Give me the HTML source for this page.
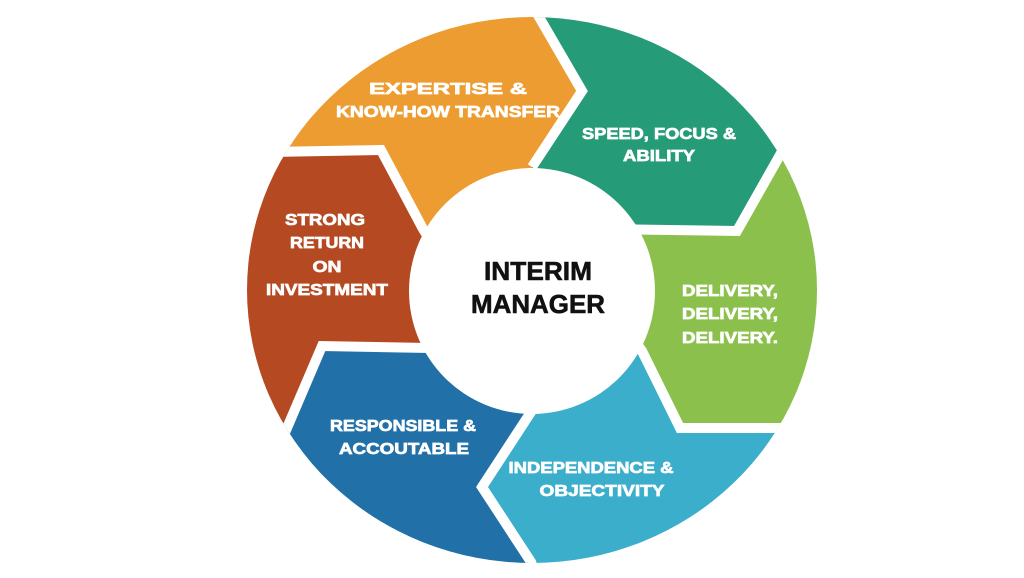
<!DOCTYPE html>
<html><head><meta charset="utf-8"><style>html,body{margin:0;padding:0;background:#fff;width:1024px;height:578px;overflow:hidden}svg{display:block}</style></head>
<body>
<svg width="1024" height="578" viewBox="0 0 1024 578" xmlns="http://www.w3.org/2000/svg">
<defs><clipPath id="c"><ellipse cx="532" cy="290" rx="285" ry="273"/></clipPath></defs>
<g clip-path="url(#c)">
<polygon fill="#259B78" points="532,290 532,167 582,91 535,10 520,-20 1000,-100 1000,0 810,100 780,155 737,231 600,229"/>
<polygon fill="#8BC04C" points="532,290 600,229 737,231 780,155 810,100 1000,100 1000,428 840,428 680,428 642,351 620,320"/>
<polygon fill="#3BAECB" points="532,290 620,320 642,351 680,428 840,428 1000,700 545,600 531,562 482,487 531,412 535,380"/>
<polygon fill="#2170A8" points="532,290 535,380 531,412 482,487 531,562 545,600 100,700 100,490 260,490 287,428 322,346 430,348"/>
<polygon fill="#B54A22" points="532,290 430,348 322,346 287,428 260,490 100,490 100,152 220,152 270,152 381,150 423,229 430,240"/>
<polygon fill="#EC9C30" points="532,290 430,240 423,229 381,150 270,152 220,152 100,-100 520,-20 535,10 582,91 532,167"/>
<g fill="none" stroke="#fff" stroke-width="10" stroke-linejoin="miter">
<polyline points="532,167 582,91 535,10 520,-20"/>
<polyline points="600,229 737,231 780,155 810,100"/>
<polyline points="620,320 642,351 680,428 840,428"/>
<polyline points="535,380 531,412 482,487 531,562 545,600"/>
<polyline points="430,348 322,346 287,428 260,490"/>
<polyline points="430,240 423,229 381,150 270,152 220,152"/>
</g>
</g>
<circle cx="532" cy="291" r="123" fill="#fff"/>
<g font-family="Liberation Sans, sans-serif" font-weight="bold" fill="#fff" stroke="#fff" stroke-width="0.7" font-size="16" text-anchor="middle">
<text x="448" y="94" textLength="158" lengthAdjust="spacingAndGlyphs">EXPERTISE &amp;</text>
<text x="448" y="117" textLength="224" lengthAdjust="spacingAndGlyphs">KNOW-HOW TRANSFER</text>
<text x="659" y="139" textLength="154" lengthAdjust="spacingAndGlyphs">SPEED, FOCUS &amp;</text>
<text x="659" y="161" textLength="72" lengthAdjust="spacingAndGlyphs">ABILITY</text>
<text x="730" y="296" textLength="96" lengthAdjust="spacingAndGlyphs">DELIVERY,</text>
<text x="730" y="319" textLength="96" lengthAdjust="spacingAndGlyphs">DELIVERY,</text>
<text x="730" y="343" textLength="96" lengthAdjust="spacingAndGlyphs">DELIVERY.</text>
<text x="325" y="225" textLength="80" lengthAdjust="spacingAndGlyphs">STRONG</text>
<text x="327" y="248" textLength="74" lengthAdjust="spacingAndGlyphs">RETURN</text>
<text x="327" y="272" textLength="29" lengthAdjust="spacingAndGlyphs">ON</text>
<text x="327" y="295" textLength="122" lengthAdjust="spacingAndGlyphs">INVESTMENT</text>
<text x="403" y="431" textLength="146" lengthAdjust="spacingAndGlyphs">RESPONSIBLE &amp;</text>
<text x="404" y="454" textLength="130" lengthAdjust="spacingAndGlyphs">ACCOUTABLE</text>
<text x="591" y="473" textLength="165" lengthAdjust="spacingAndGlyphs">INDEPENDENCE &amp;</text>
<text x="602" y="496" textLength="125" lengthAdjust="spacingAndGlyphs">OBJECTIVITY</text>
</g>
<g font-family="Liberation Sans, sans-serif" font-weight="bold" fill="#111" stroke="#111" stroke-width="0.6" font-size="26" text-anchor="middle">
<text x="538" y="280" textLength="108" lengthAdjust="spacingAndGlyphs">INTERIM</text>
<text x="538" y="313" textLength="134" lengthAdjust="spacingAndGlyphs">MANAGER</text>
</g>
</svg>
</body></html>
